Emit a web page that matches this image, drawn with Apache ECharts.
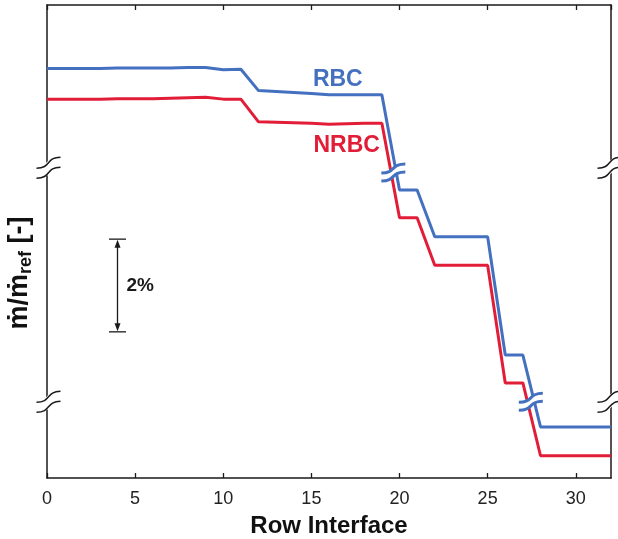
<!DOCTYPE html>
<html><head><meta charset="utf-8">
<script src="https://cdn.jsdelivr.net/npm/echarts@6/dist/echarts.min.js"></script>
<style>html,body{margin:0;padding:0;background:#fff}#c{width:618px;height:539px}</style>
</head><body><div id="c"></div>
<script>
// ---- data (y in relative plot units, 0..100 over the broken axis) ----
const rowInterface = [0,1,2,3,4,5,6,7,8,9,10,11,12,13,14,15,16,17,18,19,20,21,22,23,24,25,26,27,28,29,30,31,32];
const rbc  = [86.6,86.6,86.6,86.6,86.7,86.7,86.7,86.7,86.8,86.8,86.3,86.4,81.9,81.7,81.5,81.3,81.0,81.0,81.0,81.0,60.9,60.9,51.0,51.0,51.0,51.0,26.0,26.0,10.8,10.8,10.8,10.8,10.8];
const nrbc = [80.1,80.1,80.1,80.1,80.2,80.2,80.2,80.3,80.4,80.5,80.1,80.1,75.3,75.2,75.1,75.0,74.8,74.9,75.0,75.0,55.0,55.0,45.0,45.0,45.0,45.0,20.1,20.1,4.7,4.7,4.7,4.7,4.7];
const xTickStep = 5;
const seriesNames = ['RBC','NRBC'];
const labelPos = [[16.5,84.2],[17.0,70.3]];      // annotation centres (data units)
const axisBreakY = [65.6, 16.1];                  // axis break levels
const lineBreaks = [[19.65,64.6],[27.45,16.1]];   // breaks drawn on the curves
const scaleBar = {x:4.0, yTop:50.5, yBottom:30.9, text:'2%'};

const BLUE = '#4470c0', RED = '#e21d38', INK = '#1a1a1a';
const FONT = '"Liberation Sans", Arial, Helvetica, sans-serif';

const chart = echarts.init(document.getElementById('c'), null, {renderer:'canvas'});
const xAxisBase = {
  type:'value', min:0, max:32, interval:xTickStep,
  axisLine:{show:true, onZero:false, lineStyle:{color:INK, width:1.5}},
  axisTick:{show:true, inside:true, length:5, lineStyle:{color:INK, width:1.3}},
  splitLine:{show:false}
};
const yAxisBase = {
  type:'value', min:0, max:100,
  axisLine:{show:true, onZero:false, lineStyle:{color:INK, width:1.5}},
  axisTick:{show:false}, axisLabel:{show:false}, splitLine:{show:false}
};
chart.setOption({
  animation:false,
  grid:{left:47, right:7, top:5, bottom:61, containLabel:false, outerBoundsMode:'none'},
  xAxis:[
    Object.assign({}, xAxisBase, {position:'bottom',
      axisLabel:{color:'#222', fontSize:18, fontFamily:FONT, margin:12, showMaxLabel:false},
      name:'Row Interface', nameLocation:'middle', nameGap:36,
      nameTextStyle:{fontSize:24, fontWeight:'bold', color:'#111', fontFamily:FONT}}),
    Object.assign({}, xAxisBase, {position:'top', axisLabel:{show:false}})
  ],
  yAxis:[
    Object.assign({}, yAxisBase, {position:'left'}),
    Object.assign({}, yAxisBase, {position:'right'})
  ],
  series:[
    {name:seriesNames[0], type:'line', data:rowInterface.map((x,i)=>[x,rbc[i]]), symbol:'none',
     lineStyle:{color:BLUE, width:3}, itemStyle:{color:BLUE}, z:3},
    {name:seriesNames[1], type:'line', data:rowInterface.map((x,i)=>[x,nrbc[i]]), symbol:'none',
     lineStyle:{color:RED, width:3}, itemStyle:{color:RED}, z:2}
  ]
});

function px(x,y){ return chart.convertToPixel({xAxisIndex:0, yAxisIndex:0}, [x,y]); }
const els = [];
function curve(cx, cy, w, h, color, lw){
  return {type:'bezierCurve', z:100, silent:true,
    shape:{x1:cx-w/2, y1:cy+h/2, cpx1:cx+w*0.12, cpy1:cy+h/2, cpx2:cx-w*0.12, cpy2:cy-h/2, x2:cx+w/2, y2:cy-h/2},
    style:{stroke:color, lineWidth:lw, fill:null, lineCap:'butt'}};
}
function brk(cx, cy, w, h, gap, color, lw){
  els.push(curve(cx, cy, w, h, '#fff', gap));
  els.push(curve(cx, cy-gap/2, w, h, color, lw));
  els.push(curve(cx, cy+gap/2, w, h, color, lw));
}
const gx0 = px(0,0)[0], gx1 = px(32,0)[0];
axisBreakY.forEach(v => {
  const y = px(0,v)[1];
  brk(gx0+1.5, y, 24, 11, 10, INK, 1.5);
  brk(gx1-1.5, y, 24, 11, 10, INK, 1.5);
});
lineBreaks.forEach(([bx,by]) => {
  const p = px(bx,by);
  brk(p[0], p[1], 24, 9, 8, BLUE, 3);
});
// series labels
[[BLUE,0],[RED,1]].forEach(([c,i]) => {
  const p = px(labelPos[i][0], labelPos[i][1]);
  els.push({type:'text', x:p[0], y:p[1], z:50,
    style:{text:seriesNames[i], fill:c, font:'bold 23px '+FONT, align:'center', verticalAlign:'middle'}});
});
// scale bar
{
  const t = px(scaleBar.x, scaleBar.yTop), b = px(scaleBar.x, scaleBar.yBottom);
  const x = t[0];
  const ls = {stroke:INK, lineWidth:1.3};
  els.push({type:'line', shape:{x1:x, y1:t[1]+6, x2:x, y2:b[1]-6}, style:ls});
  els.push({type:'line', shape:{x1:x-8.5, y1:t[1], x2:x+8.5, y2:t[1]}, style:ls});
  els.push({type:'line', shape:{x1:x-8.5, y1:b[1], x2:x+8.5, y2:b[1]}, style:ls});
  els.push({type:'polygon', shape:{points:[[x,t[1]+0.5],[x-3,t[1]+8.5],[x+3,t[1]+8.5]]}, style:{fill:INK}});
  els.push({type:'polygon', shape:{points:[[x,b[1]-0.5],[x-3,b[1]-8.5],[x+3,b[1]-8.5]]}, style:{fill:INK}});
  els.push({type:'text', x:x+9, y:(t[1]+b[1])/2, style:{text:scaleBar.text, fill:INK,
    font:'bold 19px '+FONT, align:'left', verticalAlign:'middle'}});
}
// y-axis title
els.push({type:'text', x:20, y:273, rotation:Math.PI/2, z:50,
  style:{text:'{a|ṁ/ṁ}{s|ref}{a| [-]}', align:'center', verticalAlign:'middle',
    rich:{a:{font:'bold 27px '+FONT, fill:'#111', lineHeight:30},
          s:{font:'bold 18px '+FONT, fill:'#111', lineHeight:20, verticalAlign:'bottom'}}}});
chart.setOption({graphic:{elements:els}});
</script></body></html>
